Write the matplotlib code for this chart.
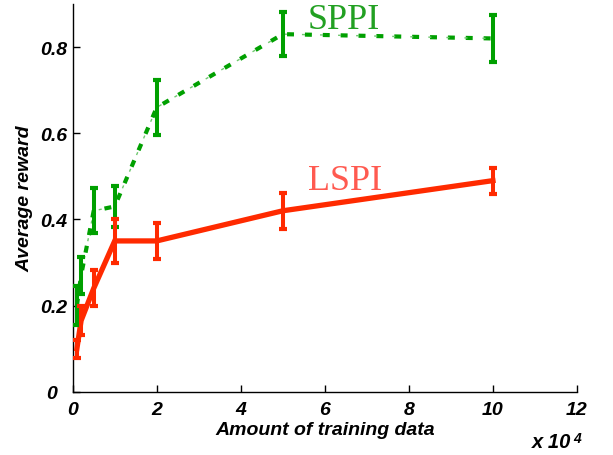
import matplotlib
matplotlib.use("Agg")
import matplotlib.pyplot as plt
import matplotlib.transforms as mtransforms

# data (x in samples; axis shows units of 1e4)
x_vals = [1000, 2000, 5000, 10000, 20000, 50000, 100000]
sppi_mean = [0.20, 0.27, 0.42, 0.43, 0.66, 0.83, 0.82]
sppi_err = [0.045, 0.043, 0.052, 0.047, 0.063, 0.051, 0.054]
lspi_mean = [0.10, 0.165, 0.24, 0.35, 0.35, 0.42, 0.49]
lspi_err = [0.021, 0.033, 0.042, 0.051, 0.042, 0.042, 0.03]
x_ticks = [0, 20000, 40000, 60000, 80000, 100000, 120000]
x_tick_labels = ["0", "2", "4", "6", "8", "10", "12"]
y_ticks = [0, 0.2, 0.4, 0.6, 0.8]
y_tick_labels = ["0", "0.2", "0.4", "0.6", "0.8"]

green = "#00a000"
green_light = "#70c870"
red = "#ff2a00"

W, H = 613, 456
fig = plt.figure(figsize=(W / 100, H / 100), dpi=100)
ax = fig.add_axes([72.7 / W, 1 - 392.7 / H, (577 - 72.7) / W, (392.7 - 5) / H])

# SPPI: thick dashes with thin dots in between
ax.plot(x_vals, sppi_mean, color=green, lw=3.0, linestyle=(0, (1.67, 2.62)),
        dash_capstyle="butt", zorder=3)
ax.plot(x_vals, sppi_mean, color=green_light, lw=1.0, linestyle=(5.0, (2.2, 10.8)),
        dash_capstyle="butt", zorder=3)
ax.errorbar(x_vals, sppi_mean, yerr=sppi_err, fmt="none", ecolor=green,
            elinewidth=2.9, capsize=3.0, capthick=3.0, zorder=4)

# LSPI
ax.plot(x_vals, lspi_mean, color=red, lw=3.8, solid_joinstyle="miter", zorder=3)
ax.errorbar(x_vals, lspi_mean, yerr=lspi_err, fmt="none", ecolor=red,
            elinewidth=2.9, capsize=3.0, capthick=3.0, zorder=4)

ax.set_xlim(0, 120000)
ax.set_ylim(0, 0.9)
ax.set_xticks(x_ticks)
ax.set_xticklabels(x_tick_labels)
ax.set_yticks(y_ticks)
ax.set_yticklabels(y_tick_labels)

tick_font = dict(family="Liberation Sans", weight="bold", style="italic", size=14)
for lab in ax.get_xticklabels() + ax.get_yticklabels():
    lab.set_fontproperties(matplotlib.font_manager.FontProperties(**tick_font))
ax.tick_params(direction="in", length=5, width=1, colors="black")
ax.tick_params(axis="x", pad=7)
ax.tick_params(axis="y", pad=4)
# MATLAB-style shift of the "0" y label
ylabs = ax.get_yticklabels()
ylabs[0].set_transform(ylabs[0].get_transform() +
                       mtransforms.ScaledTranslation(-10 / 100, 0, fig.dpi_scale_trans))

for s in ["top", "right"]:
    ax.spines[s].set_visible(False)
for s in ["left", "bottom"]:
    ax.spines[s].set_linewidth(1.0)

ax.set_xlabel("Amount of training data", fontdict=tick_font, labelpad=2)
ax.set_ylabel("Average reward", fontdict=tick_font, labelpad=5)

fig.text(532 / W, 1 - 448 / H, "x 10", ha="left", va="baseline",
         family="Liberation Sans", weight="bold", style="italic", size=14.5)
fig.text(573 / W, 1 - 443 / H, "4", ha="left", va="baseline",
         family="Liberation Sans", weight="bold", style="italic", size=10)

ax.text(56000, 0.845, "SPPI", color="#22a022", family="Liberation Serif",
        fontsize=26, ha="left", va="baseline")
ax.text(56000, 0.47, "LSPI", color="#ff5a50", family="Liberation Serif",
        fontsize=26, ha="left", va="baseline")

fig.savefig("out.png", dpi=100)
